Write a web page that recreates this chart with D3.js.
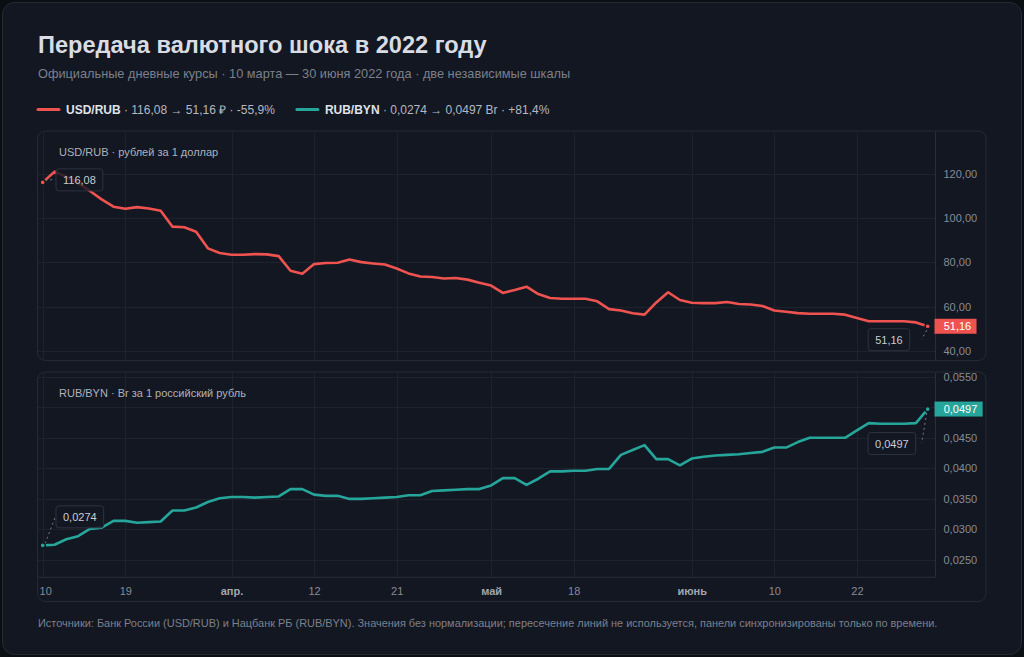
<!DOCTYPE html>
<html><head><meta charset="utf-8">
<script src="https://cdn.jsdelivr.net/npm/d3@7"></script>
<style>
html,body{margin:0;padding:0;background:#0b0e13;}
svg{display:block;font-family:"Liberation Sans",Arial,Helvetica,sans-serif;}
</style></head><body>
<svg id="c" width="1024" height="657"></svg>
<script>
// ---------- DATA ----------
const dates = [
"2022-03-10","2022-03-11","2022-03-12","2022-03-15","2022-03-16","2022-03-17","2022-03-18","2022-03-19",
"2022-03-22","2022-03-23","2022-03-24","2022-03-25","2022-03-26","2022-03-29","2022-03-30","2022-03-31",
"2022-04-01","2022-04-02","2022-04-05","2022-04-06","2022-04-07","2022-04-08","2022-04-09","2022-04-12",
"2022-04-13","2022-04-14","2022-04-15","2022-04-16","2022-04-19","2022-04-20","2022-04-21","2022-04-22",
"2022-04-23","2022-04-26","2022-04-27","2022-04-28","2022-04-29","2022-04-30","2022-05-05","2022-05-06",
"2022-05-07","2022-05-12","2022-05-13","2022-05-14","2022-05-17","2022-05-18","2022-05-19","2022-05-20",
"2022-05-21","2022-05-24","2022-05-25","2022-05-26","2022-05-27","2022-05-28","2022-05-31","2022-06-01",
"2022-06-02","2022-06-03","2022-06-04","2022-06-07","2022-06-08","2022-06-09","2022-06-10","2022-06-14",
"2022-06-15","2022-06-16","2022-06-17","2022-06-18","2022-06-21","2022-06-22","2022-06-23","2022-06-24",
"2022-06-25","2022-06-28","2022-06-29","2022-06-30"];

const usdRub = [
116.08,120.9,118.6,115.6,112.2,108.4,105.1,104.2,104.9,104.3,103.3,96.1,95.8,93.8,86.3,84.2,
83.4,83.4,83.7,83.6,82.8,76.2,74.9,79.2,79.7,79.8,81.3,80.1,79.5,79.0,77.2,75.0,
73.6,73.4,72.7,72.9,72.2,70.8,69.5,66.2,67.5,69.0,65.7,63.9,63.6,63.6,63.6,62.4,
58.9,58.3,57.0,56.4,61.9,66.5,63.0,61.8,61.6,61.6,62.1,61.2,61.0,60.3,58.3,57.7,
57.1,56.8,56.8,56.8,56.4,54.9,53.4,53.4,53.4,53.4,52.9,51.16];

const rubByn = [
0.0274,0.0275,0.0284,0.0289,0.0301,0.0303,0.0314,0.0314,0.0311,0.0312,0.0313,0.0331,0.0331,0.0336,0.0345,0.0351,
0.0353,0.0353,0.0352,0.0353,0.0354,0.0366,0.0366,0.0357,0.0355,0.0355,0.0350,0.0350,0.0351,0.0352,0.0353,0.0356,
0.0356,0.0363,0.0364,0.0365,0.0366,0.0366,0.0372,0.0384,0.0384,0.0373,0.0383,0.0395,0.0395,0.0396,0.0396,0.0399,
0.0399,0.0422,0.0430,0.0438,0.0415,0.0415,0.0405,0.0416,0.0419,0.0421,0.0422,0.0423,0.0425,0.0427,0.0434,0.0434,
0.0443,0.0450,0.0450,0.0450,0.0450,0.0462,0.0474,0.0473,0.0473,0.0473,0.0474,0.0497];

const timeTickDates = ["2022-03-10","2022-03-19","2022-04-01","2022-04-12","2022-04-21","2022-05-05","2022-05-18","2022-06-01","2022-06-10","2022-06-22"];
const timeTickLabels = ["10","19","апр.","12","21","май","18","июнь","10","22"];
const monthLabels = ["апр.","май","июнь"];
const usdTicks = [40,60,80,100,120];
const bynTicks = [0.025,0.030,0.035,0.040,0.045,0.050,0.055];

const title = "Передача валютного шока в 2022 году";
const subtitle = "Официальные дневные курсы · 10 марта — 30 июня 2022 года · две независимые шкалы";
const footer = "Источники: Банк России (USD/RUB) и Нацбанк РБ (RUB/BYN). Значения без нормализации; пересечение линий не используется, панели синхронизированы только по времени.";

// ---------- STYLE ----------
const C = {
  card:"#131722", border:"#262a35", grid:"#1e222c", axisLine:"#2a2e39",
  title:"#d9dce3", sub:"#7b808b", text:"#c9ccd3", axisText:"#868b96",
  red:"#ef5350", teal:"#26a69a"
};
const ru = d3.formatLocale({decimal:",", thousands:"\u00a0", grouping:[3], currency:["",""], minus:"-"});
const f2 = ru.format(".2f"), f4 = ru.format(".4f"), fp = ru.format("+.1f"), fpm = ru.format(".1f");

const svg = d3.select("#c");
svg.append("rect").attr("x",2.5).attr("y",2.5).attr("width",1019).attr("height",652).attr("rx",12)
  .attr("fill",C.card).attr("stroke",C.border);

svg.append("text").attr("x",38).attr("y",53).attr("font-size",23.6).attr("font-weight",700)
  .attr("fill",C.title).text(title);
svg.append("text").attr("x",38).attr("y",78).attr("font-size",12.75).attr("fill",C.sub).text(subtitle);

// legend
function pct(a){ const p=(a[a.length-1]/a[0]-1)*100; return (p>0?fp(p):fpm(p))+"%"; }
const legendItems = [
  {name:"USD/RUB", color:C.red, rest:` · ${f2(usdRub[0])} → ${f2(usdRub[usdRub.length-1])} ₽ · ${pct(usdRub)}`},
  {name:"RUB/BYN", color:C.teal, rest:` · ${f4(rubByn[0])} → ${f4(rubByn[rubByn.length-1])} Br · ${pct(rubByn)}`}
];
let lx = 38;
legendItems.forEach(it=>{
  svg.append("line").attr("x1",lx).attr("x2",lx+21).attr("y1",109.5).attr("y2",109.5)
    .attr("stroke",it.color).attr("stroke-width",3).attr("stroke-linecap","round");
  const t = svg.append("text").attr("x",lx+28).attr("y",113.5).attr("font-size",12).attr("fill",C.text);
  t.append("tspan").attr("font-weight",700).attr("fill","#dfe2e8").text(it.name);
  t.append("tspan").attr("fill","#b4b8c0").text(it.rest);
  lx = lx + 28 + t.node().getComputedTextLength() + 22;
});

// ---------- SCALES ----------
const x = d3.scalePoint().domain(dates).range([42.7, 927.7]);
const plotL = 38, plotR = 935;
const P1 = {top:132, bottom:360};
const P2 = {top:373, bottom:577.3};
const y1 = d3.scaleLinear().domain([35.94,138.8]).range([P1.bottom,P1.top]);
const y2 = d3.scaleLinear().domain([0.02217,0.0556]).range([P2.bottom,P2.top]);

function panelFrame(top, bottom){
  svg.append("rect").attr("x",37.5).attr("y",top-0.5).attr("width",948.5).attr("height",bottom-top+1).attr("rx",8)
    .attr("fill","none").attr("stroke",C.border);
}
panelFrame(131.5, 360);
panelFrame(372.5, 601);

function drawPanel(P, y, ticks, fmt, data, color, label, showTime){
  const g = svg.append("g");
  // horizontal grid
  g.append("g").selectAll("line").data(ticks).join("line")
    .attr("x1",plotL).attr("x2",plotR).attr("y1",d=>Math.round(y(d))+0.5).attr("y2",d=>Math.round(y(d))+0.5)
    .attr("stroke",C.grid);
  // vertical grid
  g.append("g").selectAll("line").data(timeTickDates).join("line")
    .attr("x1",d=>Math.round(x(d))+0.5).attr("x2",d=>Math.round(x(d))+0.5).attr("y1",P.top).attr("y2",P.bottom)
    .attr("stroke",C.grid);
  // price axis line
  g.append("line").attr("x1",plotR+0.5).attr("x2",plotR+0.5).attr("y1",P.top).attr("y2",P.bottom).attr("stroke",C.axisLine);
  // label
  g.append("text").attr("x",59).attr("y",P.top+24).attr("font-size",11).attr("fill","#aeb2bb").text(label);
  // price axis via d3.axisRight
  const last = data[data.length-1];
  const ay = g.append("g").attr("transform",`translate(${plotR},0)`)
    .call(d3.axisRight(y).tickValues(ticks).tickFormat(fmt).tickSize(0).tickPadding(8.5));
  ay.select(".domain").remove();
  ay.selectAll("text").attr("font-size",11).attr("fill",C.axisText).attr("font-family",null)
    .style("display",d=>Math.abs(y(d)-y(last))<12?"none":null);
  // line
  const clipId = "clip"+Math.round(P.top);
  svg.append("clipPath").attr("id",clipId).append("rect").attr("x",plotL).attr("y",P.top).attr("width",plotR-plotL).attr("height",P.bottom-P.top);
  const line = d3.line().x((d,i)=>x(dates[i])).y(d=>y(d));
  g.append("path").datum(data).attr("clip-path",`url(#${clipId})`).attr("d",line)
    .attr("fill","none").attr("stroke",color).attr("stroke-width",2.6).attr("stroke-linejoin","round");
  // last value badge
  const br = g.append("rect").attr("x",plotR-0.5).attr("y",y(last)-7.5).attr("height",15).attr("fill",color);
  const bt = g.append("text").attr("x",plotR+8.7).attr("y",y(last)).attr("dy","0.35em")
    .attr("font-size",11).attr("fill","#ffffff").text(fmt(last));
  br.attr("width", bt.node().getComputedTextLength()+14.5);
  // time axis
  if(showTime){
    g.append("line").attr("x1",plotL).attr("x2",plotR).attr("y1",P.bottom).attr("y2",P.bottom).attr("stroke",C.axisLine);
    const ax = g.append("g").attr("transform",`translate(0,${P.bottom})`)
      .call(d3.axisBottom(x).tickValues(timeTickDates).tickFormat((d,i)=>timeTickLabels[i]).tickSize(0).tickPadding(9.5));
    ax.select(".domain").remove();
    ax.selectAll("text").attr("font-size",11).attr("font-family",null)
      .attr("fill",(d,i)=>monthLabels.includes(timeTickLabels[i])?"#a3a7b0":C.axisText)
      .attr("font-weight",(d,i)=>monthLabels.includes(timeTickLabels[i])?700:400)
      .each(function(d){
        const w=this.getComputedTextLength(); const cx=x(d);
        if(cx-w/2<plotL+1) d3.select(this).attr("x",plotL+1+w/2-cx);
      });
  }
  return g;
}
const g1 = drawPanel(P1, y1, usdTicks, f2, usdRub, C.red, "USD/RUB · рублей за 1 доллар", false);
const g2 = drawPanel(P2, y2, bynTicks, f4, rubByn, C.teal, "RUB/BYN · Br за 1 российский рубль", true);

// annotations
function annotate(g, y, data, fmt, idx, color, side, boxDy){
  const px = x(dates[idx]), py = y(data[idx]);
  const h = 22;
  const lineSel = g.append("line");
  const rect = g.append("rect");
  const t = g.append("text").attr("font-size",11).attr("fill","#c9ccd3").text(fmt(data[idx]));
  const w = t.node().getComputedTextLength()+14;
  let bx, by = py + boxDy, lx1, ly1, lx2, ly2;
  if(side==="left"){ bx = px+12.8; lx1=px+2.5; ly1=py-2; lx2=bx; ly2=by+h/2; }
  else { bx = px-18.5-w+(w>45?6:0); lx1=px-1; ly1=py+4; lx2=px-6; ly2=by+h/2; }
  lineSel.attr("x1",lx1).attr("y1",ly1).attr("x2",lx2).attr("y2",ly2)
    .attr("stroke","#767b87").attr("stroke-width",1).attr("stroke-dasharray","2,3");
  rect.attr("x",bx+0.5).attr("y",by+0.5).attr("width",w).attr("height",h).attr("rx",3)
    .attr("fill","rgba(19,23,34,0.82)").attr("stroke","#2e3340");
  t.attr("x",bx+7.5).attr("y",by+h/2+1).attr("dy","0.35em");
  g.append("circle").attr("cx",px).attr("cy",py).attr("r",2.6).attr("fill",color).attr("stroke",C.card).attr("stroke-width",1.5);
}
annotate(g1, y1, usdRub, f2, 0, C.red, "left", -14);
annotate(g1, y1, usdRub, f2, usdRub.length-1, C.red, "right", 2);
annotate(g2, y2, rubByn, f4, 0, C.teal, "left", -40);
annotate(g2, y2, rubByn, f4, rubByn.length-1, C.teal, "right", 23);

svg.append("text").attr("x",38).attr("y",626.5).attr("font-size",10.95).attr("fill",C.sub).text(footer);
</script>
</body></html>
